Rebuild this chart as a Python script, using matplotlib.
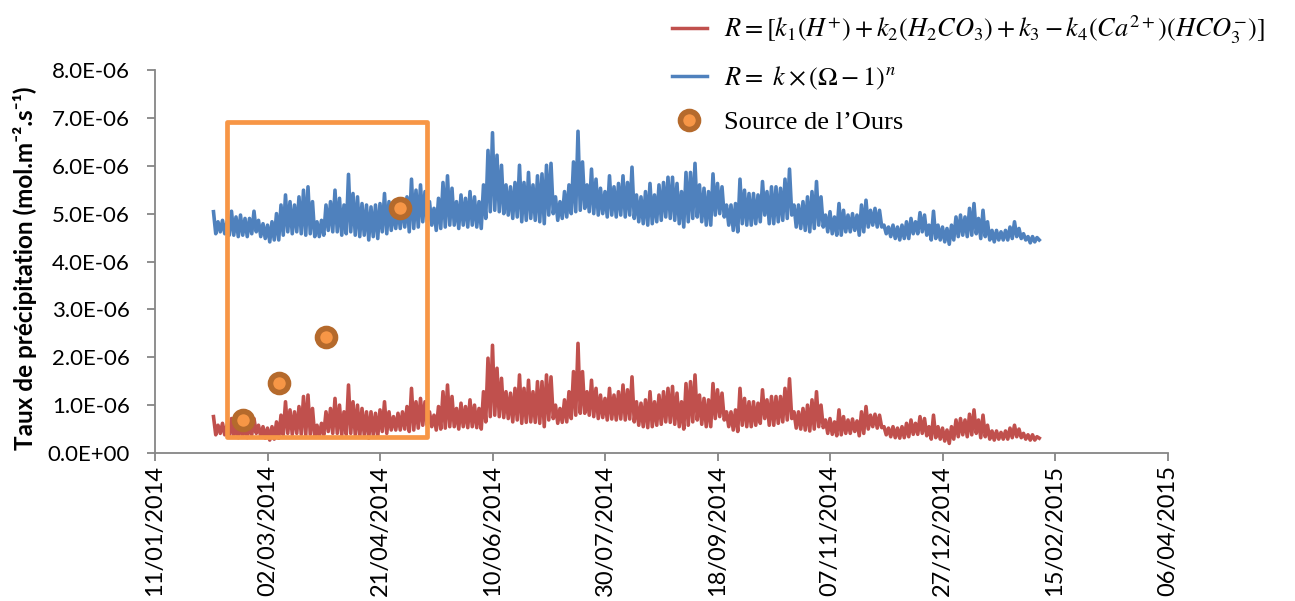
import numpy as np
import pandas as pd
import matplotlib
matplotlib.use("Agg")
import matplotlib.pyplot as plt
import matplotlib.dates as mdates
from matplotlib.patches import Rectangle
from matplotlib.lines import Line2D
from matplotlib.ticker import FuncFormatter

# ---------------- data (values in 1E-06 mol.m-2.s-1) ----------------
series_start = "2014-02-06"   # first sample; samples every 2 days
sample_step_days = 2

blue_upper = [
    5.04, 4.83, 4.86, 4.83, 5.05, 4.93, 4.97, 4.90, 4.90, 5.05, 4.86, 4.79, 4.76, 4.83, 5.00, 5.18, 5.39, 5.25, 5.18, 5.35,
    5.49, 5.56, 5.25, 4.83, 4.86, 5.18, 5.25, 5.49, 5.32, 5.18, 5.82, 5.42, 5.35, 5.21, 5.18,
    5.14, 5.18, 5.21, 5.42, 5.25, 5.11, 5.18, 5.28, 5.35, 5.72, 5.49, 5.60, 5.46, 5.25, 5.11, 5.32, 5.65, 5.79, 5.53, 5.25,
    5.39, 5.32, 5.46, 5.35, 5.25, 5.60, 6.32, 6.69, 6.22, 6.01, 5.60, 5.56, 5.65, 6.01, 5.65, 5.86, 5.60, 5.79,
    5.83, 6.01, 6.05, 5.35, 5.25, 5.46, 5.60, 6.08, 6.72, 6.08, 5.60, 5.93, 5.72, 5.53, 5.46, 5.79, 5.56, 5.63, 5.79, 5.65,
    5.97, 5.39, 5.35, 5.46, 5.63, 5.39, 5.60, 5.65, 5.76, 5.76, 5.63, 5.46, 5.86, 5.86, 6.05, 5.60, 5.53, 5.46,
    5.83, 5.63, 5.56, 5.18, 5.18, 5.21, 5.72, 5.49, 5.42, 5.42, 5.39, 5.67, 5.46, 5.56, 5.56, 5.53, 5.72, 5.93, 5.18, 5.18,
    5.25, 5.35, 5.46, 5.67, 5.35, 4.97, 5.04, 4.93, 5.21, 5.07, 4.97, 5.00, 4.97, 5.18, 5.28, 5.07, 5.11, 5.07,
    4.76, 4.72, 4.76, 4.72, 4.76, 4.83, 4.90, 4.83, 5.02, 4.97, 4.76, 5.05, 4.76, 4.72, 4.69, 4.76, 4.93, 4.97, 4.93, 5.11,
    5.21, 4.90, 5.07, 4.83, 4.65, 4.65, 4.62, 4.65, 4.72, 4.83, 4.69, 4.58, 4.52, 4.52, 4.50,
]
blue_lower = [
    4.58, 4.62, 4.58, 4.55, 4.55, 4.52, 4.55, 4.52, 4.58, 4.62, 4.52, 4.48, 4.41, 4.45, 4.45, 4.55, 4.62, 4.58, 4.62, 4.58,
    4.55, 4.58, 4.52, 4.52, 4.55, 4.65, 4.62, 4.62, 4.55, 4.58, 4.62, 4.55, 4.52, 4.55, 4.45,
    4.52, 4.48, 4.62, 4.58, 4.65, 4.69, 4.69, 4.72, 4.62, 4.69, 4.72, 4.83, 4.83, 4.76, 4.65, 4.69, 4.72, 4.76, 4.76, 4.69,
    4.76, 4.72, 4.76, 4.72, 4.69, 4.90, 5.04, 5.07, 5.04, 5.00, 4.97, 4.90, 4.93, 4.83, 4.86, 4.90, 4.86, 4.83,
    4.79, 4.97, 5.00, 4.86, 4.90, 4.93, 5.00, 5.04, 5.07, 5.11, 5.04, 5.00, 4.97, 5.00, 4.93, 4.97, 4.93, 4.97, 4.93, 4.97,
    4.90, 4.83, 4.79, 4.76, 4.79, 4.83, 4.86, 4.93, 4.90, 4.86, 4.79, 4.72, 4.83, 4.90, 4.93, 4.83, 4.76, 4.76,
    4.97, 5.00, 4.93, 4.76, 4.65, 4.62, 4.79, 4.76, 4.76, 4.79, 4.83, 4.97, 4.79, 4.79, 4.83, 4.86, 4.90, 4.97, 4.72, 4.69,
    4.65, 4.62, 4.69, 4.76, 4.72, 4.62, 4.58, 4.55, 4.55, 4.62, 4.62, 4.65, 4.55, 4.62, 4.72, 4.76, 4.72, 4.72,
    4.58, 4.52, 4.48, 4.45, 4.48, 4.48, 4.58, 4.58, 4.62, 4.55, 4.45, 4.48, 4.45, 4.41, 4.36, 4.45, 4.52, 4.55, 4.52, 4.55,
    4.58, 4.48, 4.52, 4.45, 4.41, 4.45, 4.45, 4.45, 4.48, 4.52, 4.48, 4.45, 4.39, 4.41, 4.45,
]
red_upper = [
    0.76, 0.58, 0.62, 0.58, 0.72, 0.62, 0.65, 0.62, 0.62, 0.72, 0.58, 0.55, 0.52, 0.55, 0.65, 0.79, 1.07, 0.90, 0.86, 0.97,
    1.18, 1.21, 0.93, 0.58, 0.62, 0.86, 0.93, 1.14, 1.00, 0.86, 1.42, 1.07, 1.00, 0.93, 0.86,
    0.86, 0.83, 0.90, 1.07, 0.86, 0.76, 0.83, 0.86, 0.97, 1.35, 1.07, 1.14, 1.07, 0.86, 0.79, 0.97, 1.28, 1.42, 1.18, 0.93,
    1.04, 0.97, 1.11, 1.00, 0.93, 1.28, 1.98, 2.25, 1.77, 1.56, 1.28, 1.25, 1.35, 1.63, 1.35, 1.52, 1.28, 1.49,
    1.49, 1.63, 1.59, 1.00, 0.93, 1.11, 1.28, 1.70, 2.29, 1.70, 1.28, 1.52, 1.35, 1.21, 1.14, 1.35, 1.21, 1.28, 1.42, 1.32,
    1.59, 1.07, 1.04, 1.11, 1.28, 1.07, 1.21, 1.28, 1.35, 1.39, 1.25, 1.07, 1.45, 1.49, 1.63, 1.21, 1.14, 1.11,
    1.45, 1.32, 1.25, 0.86, 0.86, 0.90, 1.35, 1.14, 1.07, 1.07, 1.04, 1.32, 1.11, 1.18, 1.18, 1.18, 1.35, 1.55, 0.86, 0.86,
    0.93, 1.00, 1.11, 1.28, 1.00, 0.69, 0.72, 0.65, 0.90, 0.76, 0.69, 0.71, 0.67, 0.86, 0.97, 0.79, 0.81, 0.79,
    0.55, 0.52, 0.55, 0.52, 0.55, 0.62, 0.69, 0.62, 0.76, 0.72, 0.55, 0.79, 0.55, 0.52, 0.48, 0.55, 0.69, 0.72, 0.69, 0.81,
    0.90, 0.69, 0.79, 0.58, 0.46, 0.46, 0.43, 0.46, 0.52, 0.58, 0.50, 0.41, 0.38, 0.38, 0.34,
]
red_lower = [
    0.38, 0.41, 0.38, 0.34, 0.34, 0.32, 0.34, 0.32, 0.38, 0.41, 0.34, 0.31, 0.27, 0.29, 0.31, 0.38, 0.41, 0.39, 0.41, 0.39,
    0.38, 0.39, 0.34, 0.34, 0.38, 0.45, 0.41, 0.41, 0.38, 0.39, 0.41, 0.38, 0.34, 0.38, 0.31,
    0.38, 0.34, 0.45, 0.41, 0.48, 0.48, 0.48, 0.50, 0.45, 0.48, 0.52, 0.58, 0.58, 0.55, 0.48, 0.50, 0.52, 0.55, 0.55, 0.50,
    0.55, 0.53, 0.55, 0.53, 0.50, 0.65, 0.76, 0.79, 0.76, 0.74, 0.72, 0.65, 0.69, 0.62, 0.64, 0.65, 0.64, 0.62,
    0.55, 0.69, 0.72, 0.62, 0.64, 0.65, 0.72, 0.79, 0.83, 0.83, 0.79, 0.76, 0.72, 0.74, 0.69, 0.71, 0.69, 0.71, 0.69, 0.71,
    0.65, 0.58, 0.55, 0.53, 0.55, 0.58, 0.60, 0.65, 0.64, 0.60, 0.55, 0.50, 0.58, 0.65, 0.69, 0.60, 0.55, 0.55,
    0.72, 0.76, 0.69, 0.55, 0.48, 0.45, 0.58, 0.55, 0.55, 0.58, 0.62, 0.72, 0.58, 0.58, 0.62, 0.65, 0.69, 0.72, 0.52, 0.50,
    0.48, 0.46, 0.50, 0.55, 0.53, 0.41, 0.39, 0.36, 0.38, 0.41, 0.41, 0.45, 0.36, 0.41, 0.50, 0.55, 0.52, 0.53,
    0.38, 0.34, 0.32, 0.31, 0.32, 0.34, 0.39, 0.39, 0.41, 0.36, 0.29, 0.32, 0.29, 0.25, 0.20, 0.29, 0.34, 0.38, 0.34, 0.38,
    0.41, 0.32, 0.34, 0.29, 0.27, 0.29, 0.29, 0.29, 0.32, 0.34, 0.32, 0.29, 0.27, 0.27, 0.31,
]

source_dates = ["2014-02-19", "2014-03-07", "2014-03-28", "2014-04-30"]
source_values = [0.69, 1.47, 2.42, 5.11]

box_dates = ["2014-02-12", "2014-05-12"]
box_values = [0.33, 6.92]

tick_start = "2014-01-11"
tick_count = 10
tick_step_days = 50
y_ticks = [0, 1, 2, 3, 4, 5, 6, 7, 8]

label_red = r"$R=[k_1(H^{+})+k_2(H_2CO_3)+k_3-k_4(Ca^{2+})(HCO_3^{-})]$"
label_blue = r"$R=\ k\times\left(\mathit{\Omega}-1\right)^{n}$"
label_src = "Source de l\u2019Ours"
y_label = "Taux de précipitation (mol.m\u207b\u00b2.s\u207b\u00b9)"

n = len(blue_upper)
assert len(blue_lower) == n and len(red_upper) == n and len(red_lower) == n

# ---------------- build series (upper at t, lower at t+1 day) ----------------
scale = 1e-6
t_up = pd.date_range(series_start, periods=n, freq=f"{sample_step_days}D")
t_lo = t_up + pd.Timedelta(days=1)
t_all = np.empty(2 * n, dtype="datetime64[ns]")
t_all[0::2] = t_up.values
t_all[1::2] = t_lo.values

def interleave(up, lo):
    out = np.empty(2 * n)
    out[0::2] = np.array(up) * scale
    out[1::2] = np.array(lo) * scale
    return out

blue = interleave(blue_upper, blue_lower)
red = interleave(red_upper, red_lower)

# ---------------- figure ----------------
plt.rcParams["mathtext.fontset"] = "stix"
W, H = 1295, 601
fig = plt.figure(figsize=(W / 100, H / 100), dpi=100)
ax = fig.add_axes([155 / W, (H - 453) / H, (1167.5 - 155) / W, (453 - 70) / H])

RED = "#C0504D"
BLUE = "#4F81BD"
ORANGE = "#F79646"
BROWN = "#B56A2C"
GRAY = "#868686"

ax.plot(t_all, red, color=RED, lw=2.6, zorder=2, solid_joinstyle="round")
ax.plot(t_all, blue, color=BLUE, lw=2.6, zorder=2, solid_joinstyle="round")

bx0, bx1 = mdates.date2num(pd.to_datetime(box_dates[0])), mdates.date2num(pd.to_datetime(box_dates[1]))
rect = Rectangle((bx0, box_values[0] * scale), bx1 - bx0, (box_values[1] - box_values[0]) * scale,
                 fill=False, ec=ORANGE, lw=3.4, zorder=3, joinstyle="round")
ax.add_patch(rect)

ax.plot(pd.to_datetime(source_dates), np.array(source_values) * scale, "o", ms=13,
        mfc=ORANGE, mec=BROWN, mew=4, zorder=5, ls="")

# axes limits / ticks
ticks = pd.date_range(tick_start, periods=tick_count, freq=f"{tick_step_days}D")
ax.set_xlim(ticks[0], ticks[-1])
ax.set_xticks(ticks)
ax.xaxis.set_major_formatter(mdates.DateFormatter("%d/%m/%Y"))
ax.set_ylim(0, 8e-6)
ax.set_yticks(np.array(y_ticks) * scale)
ax.yaxis.set_major_formatter(FuncFormatter(lambda v, p: f"{v:.1E}"))

for s in ["top", "right"]:
    ax.spines[s].set_visible(False)
for s in ["left", "bottom"]:
    ax.spines[s].set_color(GRAY)
    ax.spines[s].set_linewidth(1.3)

ax.tick_params(axis="both", direction="out", color=GRAY, width=1.3, length=6)
ax.tick_params(axis="y", pad=12)
ax.tick_params(axis="x", pad=3)
for lab in ax.get_xticklabels():
    lab.set_rotation(90)
    lab.set_fontfamily(["Lato", "DejaVu Sans"])
    lab.set_fontsize(17)
for lab in ax.get_yticklabels():
    lab.set_fontfamily(["Lato", "DejaVu Sans"])
    lab.set_fontsize(16)

fig.text(25 / W, 1 - 268 / H, y_label, rotation=90, ha="center", va="center",
         fontsize=17.5, fontweight="bold", family=["Lato", "DejaVu Sans"])

handles = [
    Line2D([], [], color=RED, lw=2.5),
    Line2D([], [], color=BLUE, lw=2.5),
    Line2D([], [], ls="", marker="o", ms=13, mfc=ORANGE, mec=BROWN, mew=4),
]
leg = fig.legend(handles, [label_red, label_blue, label_src], loc="upper left",
                 bbox_to_anchor=(661 / W, 1 - 3 / H), frameon=False,
                 prop={"family": "Liberation Serif", "size": 19},
                 handlelength=1.35, handletextpad=0.65, labelspacing=0.7, borderaxespad=0)

fig.savefig("out.png", dpi=100)
